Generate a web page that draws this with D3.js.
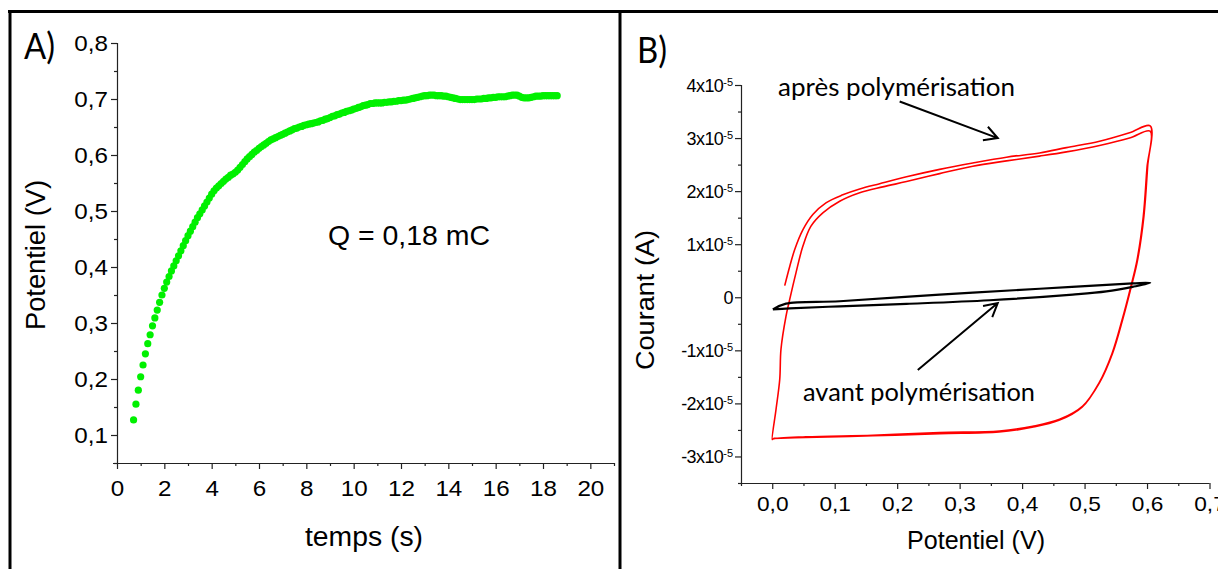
<!DOCTYPE html>
<html>
<head>
<meta charset="utf-8">
<script src="https://cdn.jsdelivr.net/npm/d3@7"></script>
<style>
  html, body { margin: 0; padding: 0; background: #fff; }
  svg { display: block; }
  .axis path, .axis line { stroke: #222; stroke-width: 1.2; }
  .arial { font-family: "Liberation Sans", Arial, sans-serif; fill: #000; }
  .calibri { font-family: Lato, "Open Sans", sans-serif; fill: #000; }
</style>
</head>
<body>
<script>
// ---------------- Panel A data : chronopotentiometry ----------------
const timeS = [
  0.7,0.8,0.9,1.0,1.1,1.2,1.3,1.4,1.5,1.6,
  1.7,1.8,1.9,2.0,2.1,2.2,2.3,2.4,2.5,2.6,
  2.7,2.8,2.9,3.0,3.1,3.2,3.3,3.4,3.5,3.6,
  3.7,3.8,3.9,4.0,4.1,4.2,4.3,4.4,4.5,4.6,
  4.7,4.8,4.9,5.0,5.1,5.2,5.3,5.4,5.5,5.6,
  5.7,5.8,5.9,6.0,6.1,6.2,6.3,6.4,6.5,6.6,
  6.7,6.8,6.9,7.0,7.1,7.2,7.3,7.4,7.5,7.6,
  7.7,7.8,7.9,8.0,8.1,8.2,8.3,8.4,8.5,8.6,
  8.7,8.8,8.9,9.0,9.1,9.2,9.3,9.4,9.5,9.6,
  9.7,9.8,9.9,10.0,10.1,10.2,10.3,10.4,10.5,10.6,
  10.7,10.8,10.9,11.0,11.1,11.2,11.3,11.4,11.5,11.6,
  11.7,11.8,11.9,12.0,12.1,12.2,12.3,12.4,12.5,12.6,
  12.7,12.8,12.9,13.0,13.1,13.2,13.3,13.4,13.5,13.6,
  13.7,13.8,13.9,14.0,14.1,14.2,14.3,14.4,14.5,14.6,
  14.7,14.8,14.9,15.0,15.1,15.2,15.3,15.4,15.5,15.6,
  15.7,15.8,15.9,16.0,16.1,16.2,16.3,16.4,16.5,16.6,
  16.7,16.8,16.9,17.0,17.1,17.2,17.3,17.4,17.5,17.6,
  17.7,17.8,17.9,18.0,18.1,18.2,18.3,18.4,18.5,18.6
];
const potentialV = [
  0.127,0.155,0.180,0.204,0.225,0.245,0.263,0.279,0.295,0.309,
  0.323,0.337,0.350,0.362,0.373,0.383,0.393,0.402,0.411,0.420,
  0.429,0.438,0.447,0.456,0.464,0.472,0.480,0.488,0.495,0.502,
  0.509,0.516,0.523,0.530,0.536,0.541,0.545,0.549,0.553,0.557,
  0.560,0.564,0.566,0.569,0.573,0.578,0.583,0.588,0.593,0.597,
  0.601,0.605,0.608,0.612,0.615,0.618,0.621,0.624,0.627,0.629,
  0.631,0.633,0.635,0.637,0.639,0.641,0.643,0.645,0.647,0.648,
  0.650,0.651,0.653,0.654,0.655,0.656,0.657,0.658,0.659,0.661,
  0.662,0.664,0.665,0.667,0.669,0.670,0.672,0.673,0.675,0.676,
  0.678,0.679,0.680,0.682,0.683,0.685,0.686,0.688,0.689,0.690,
  0.692,0.692,0.693,0.693,0.693,0.693,0.694,0.694,0.695,0.695,
  0.696,0.696,0.697,0.697,0.698,0.698,0.699,0.700,0.701,0.702,
  0.703,0.704,0.705,0.706,0.706,0.707,0.707,0.707,0.706,0.706,
  0.706,0.705,0.705,0.704,0.703,0.702,0.701,0.700,0.699,0.699,
  0.699,0.699,0.699,0.699,0.699,0.700,0.700,0.700,0.701,0.701,
  0.702,0.702,0.703,0.703,0.704,0.704,0.704,0.704,0.705,0.706,
  0.707,0.707,0.707,0.705,0.703,0.702,0.702,0.702,0.703,0.704,
  0.705,0.705,0.705,0.706,0.706,0.706,0.706,0.706,0.706,0.706
];
const aXTicks = [0,2,4,6,8,10,12,14,16,18,20];
const aXTickLabels = ["0","2","4","6","8","10","12","14","16","18","20"];
const aYTicks = [0.1,0.2,0.3,0.4,0.5,0.6,0.7,0.8];
const aYTickLabels = ["0,1","0,2","0,3","0,4","0,5","0,6","0,7","0,8"];
const chargeLabel = "Q = 0,18 mC";

// ---------------- Panel B data : cyclic voltammetry (current in 1e-5 A) ----------------
const redE = [
  0.020,0.028,0.036,0.049,0.065,0.086,0.113,0.140,0.172,0.215,0.268,0.321,0.375,0.428,0.471,0.524,0.572,0.605,
  0.601,0.595,0.585,0.575,0.561,0.545,0.524,0.497,0.460,0.417,0.364,0.268,0.161,0.054,0.001,0.000,
  0.006,0.012,0.014,0.022,0.028,0.038,0.049,0.062,0.081,0.108,0.140,0.177,0.215,0.268,0.321,0.375,0.428,0.471,0.524,0.572,0.605,
  0.600,0.594,0.584,0.574,0.560,0.544,0.523,0.496,0.459,0.416,0.363,0.268,0.161,0.054,0.002
];
const redI = [
  0.22,0.58,0.90,1.27,1.56,1.78,1.93,2.04,2.14,2.27,2.41,2.53,2.64,2.72,2.82,2.94,3.10,3.23,
  2.47,1.53,0.71,0.21,-0.42,-1.05,-1.61,-2.05,-2.30,-2.43,-2.52,-2.55,-2.60,-2.63,-2.67,-2.68,
  -2.12,-1.55,-0.98,-0.36,-0.04,0.46,0.96,1.34,1.59,1.81,1.97,2.08,2.18,2.33,2.47,2.57,2.66,2.74,2.86,3.00,3.13,
  2.45,1.52,0.70,0.20,-0.43,-1.06,-1.62,-2.07,-2.32,-2.45,-2.54,-2.57,-2.61,-2.64,-2.66
];
const blackE = [0.001,0.022,0.108,0.268,0.428,0.577,0.605,0.577,0.535,0.481,0.348,0.215,0.108,0.028,0.001];
const blackI = [-0.23,-0.12,-0.075,0.05,0.16,0.26,0.27,0.196,0.11,0.05,-0.056,-0.124,-0.17,-0.21,-0.23];
const bXTicks = [0,0.1,0.2,0.3,0.4,0.5,0.6,0.7];
const bXTickLabels = ["0,0","0,1","0,2","0,3","0,4","0,5","0,6","0,7"];
const bYTicks = [-3,-2,-1,0,1,2,3,4];
const bYTickMantissa = ["-3x10","-2x10","-1x10","0","1x10","2x10","3x10","4x10"];
const bYTickExponent = ["-5","-5","-5","","-5","-5","-5","-5"];
const labelAfter = "après polymérisation";
const labelBefore = "avant polymérisation";

// ---------------- drawing ----------------
const W = 1218, H = 569;
const svg = d3.select("body").append("svg").attr("width", W).attr("height", H);
svg.append("rect").attr("width", W).attr("height", H).attr("fill", "#fff");

svg.append("line").attr("x1", 8).attr("x2", W).attr("y1", 11.5).attr("y2", 11.5).attr("stroke", "#000").attr("stroke-width", 3);
svg.append("line").attr("x1", 10).attr("x2", 10).attr("y1", 10).attr("y2", H).attr("stroke", "#000").attr("stroke-width", 3);
svg.append("line").attr("x1", 620).attr("x2", 620).attr("y1", 10).attr("y2", H).attr("stroke", "#000").attr("stroke-width", 3);

// widen a text horizontally (reference glyphs are slightly stretched)
function widen(sel, k) {
  sel.each(function() {
    const w = this.getComputedTextLength();
    if (w > 0) d3.select(this).attr("textLength", w * k).attr("lengthAdjust", "spacingAndGlyphs");
  });
}

// ===== Panel A =====
const ax = d3.scaleLinear().domain([0, 21]).range([117, 614]);
const ay = d3.scaleLinear().domain([0.05, 0.8]).range([463, 43]);
const gA = svg.append("g");

gA.append("g").attr("class", "axis").attr("transform", "translate(0,463)")
  .call(d3.axisBottom(ax).tickValues(d3.range(1, 22, 2)).tickSize(3).tickSizeOuter(0).tickFormat(""))
  .call(g => g.select(".domain").remove());
gA.append("g").attr("class", "axis").attr("transform", "translate(117,0)")
  .call(d3.axisLeft(ay).tickValues(d3.range(0.05, 0.8, 0.1)).tickSize(3).tickSizeOuter(0).tickFormat(""))
  .call(g => g.select(".domain").remove());
const axA = gA.append("g").attr("class", "axis").attr("transform", "translate(0,463)")
  .call(d3.axisBottom(ax).tickValues(aXTicks).tickSize(6).tickSizeOuter(0).tickFormat((d, i) => aXTickLabels[i]));
axA.select(".domain").attr("d", `M${ax(0)-4},0.5H${ax(21)}`);
axA.selectAll(".tick text").attr("class", "arial").style("font-size", "22px").attr("y", 17).attr("dy", "0.71em");
widen(axA.selectAll(".tick text"), 1.1);
const ayA = gA.append("g").attr("class", "axis").attr("transform", "translate(117,0)")
  .call(d3.axisLeft(ay).tickValues(aYTicks).tickSize(6).tickSizeOuter(0).tickFormat((d, i) => aYTickLabels[i]));
ayA.select(".domain").attr("d", `M0.5,${ay(0.05)}V${ay(0.8)}`);
ayA.selectAll(".tick text").attr("class", "arial").style("font-size", "22px").attr("x", -9);
widen(ayA.selectAll(".tick text"), 1.1);

gA.append("g").selectAll("circle").data(timeS).join("circle")
  .attr("cx", d => ax(d)).attr("cy", (d, i) => ay(potentialV[i]))
  .attr("r", 3.6).attr("fill", "#00f000");

gA.append("text").attr("class", "arial").attr("x", 328).attr("y", 245)
  .attr("textLength", 162).attr("lengthAdjust", "spacingAndGlyphs")
  .style("font-size", "28px").text(chargeLabel);
gA.append("text").attr("class", "arial").attr("x", 364).attr("y", 546).attr("text-anchor", "middle")
  .attr("textLength", 118).attr("lengthAdjust", "spacingAndGlyphs")
  .style("font-size", "27px").text("temps (s)");
gA.append("text").attr("class", "arial").attr("transform", "translate(45,255) rotate(-90)").attr("text-anchor", "middle")
  .attr("textLength", 150).attr("lengthAdjust", "spacingAndGlyphs")
  .style("font-size", "27px").text("Potentiel (V)");
gA.append("text").attr("class", "calibri").attr("x", 24).attr("y", 59)
  .attr("textLength", 31).attr("lengthAdjust", "spacingAndGlyphs")
  .style("font-size", "36px").text("A)");

// ===== Panel B =====
const bx = d3.scaleLinear().domain([-0.05, 0.7]).range([741, 1209.5]);
const by = d3.scaleLinear().domain([-3.5, 4]).range([483, 85]);
const gB = svg.append("g");

gB.append("g").attr("class", "axis").attr("transform", "translate(0,483)")
  .call(d3.axisBottom(bx).tickValues(d3.range(-0.05, 0.7, 0.1)).tickSize(3).tickSizeOuter(0).tickFormat(""))
  .call(g => g.select(".domain").remove());
gB.append("g").attr("class", "axis").attr("transform", "translate(741,0)")
  .call(d3.axisLeft(by).tickValues(d3.range(-3.5, 4, 1)).tickSize(3).tickSizeOuter(0).tickFormat(""))
  .call(g => g.select(".domain").remove());
const axB = gB.append("g").attr("class", "axis").attr("transform", "translate(0,483)")
  .call(d3.axisBottom(bx).tickValues(bXTicks).tickSize(6).tickSizeOuter(0).tickFormat((d, i) => bXTickLabels[i]));
axB.select(".domain").attr("d", `M${bx(-0.05)},0.5H${bx(0.7)}`);
axB.selectAll(".tick text").attr("class", "arial").style("font-size", "21px").attr("y", 13).attr("dy", "0.71em");
widen(axB.selectAll(".tick text"), 1.08);
const ayB = gB.append("g").attr("class", "axis").attr("transform", "translate(741,0)")
  .call(d3.axisLeft(by).tickValues(bYTicks).tickSize(6).tickSizeOuter(0).tickFormat(""));
ayB.select(".domain").attr("d", `M0.5,${by(-3.5)}V${by(4)}`);
ayB.selectAll(".tick").each(function(d, i) {
  const t = d3.select(this).append("text").attr("class", "arial").attr("x", -8).attr("dy", "0.36em")
    .attr("text-anchor", "end").style("font-size", "18px").style("letter-spacing", "-0.6px");
  t.append("tspan").text(bYTickMantissa[i]);
  if (bYTickExponent[i]) {
    t.append("tspan").attr("dy", "-0.55em").style("font-size", "11px").style("letter-spacing", "0px").text(bYTickExponent[i]);
  }
});

const line = d3.line().x(d => bx(d[0])).y(d => by(d[1])).curve(d3.curveCatmullRom.alpha(0.5));
gB.append("path").datum(redE.map((e, i) => [e, redI[i]]))
  .attr("d", line).attr("fill", "none").attr("stroke", "#ff0000").attr("stroke-width", 1.6);
gB.append("path").datum(blackE.map((e, i) => [e, blackI[i]]))
  .attr("d", line).attr("fill", "none").attr("stroke", "#000").attr("stroke-width", 2.2);

function arrow(e0, i0, e1, i1) {
  const x0 = bx(e0), y0 = by(i0), x1 = bx(e1), y1 = by(i1);
  const a = Math.atan2(y1 - y0, x1 - x0), L = 15, s = 0.5;
  const p = `M${x0},${y0}L${x1},${y1}` +
    `M${x1 - L*Math.cos(a - s)},${y1 - L*Math.sin(a - s)}L${x1},${y1}L${x1 - L*Math.cos(a + s)},${y1 - L*Math.sin(a + s)}`;
  gB.append("path").attr("d", p).attr("fill", "none").attr("stroke", "#000").attr("stroke-width", 2);
}
arrow(0.204, 3.69, 0.361, 3.0);
arrow(0.233, -1.37, 0.361, -0.11);

gB.append("text").attr("class", "calibri").attr("x", 778).attr("y", 96)
  .attr("textLength", 237).attr("lengthAdjust", "spacingAndGlyphs")
  .style("font-size", "25px").text(labelAfter);
gB.append("text").attr("class", "calibri").attr("x", 803).attr("y", 401)
  .attr("textLength", 232).attr("lengthAdjust", "spacingAndGlyphs")
  .style("font-size", "25px").text(labelBefore);

gB.append("text").attr("class", "arial").attr("x", 976).attr("y", 549).attr("text-anchor", "middle")
  .attr("textLength", 138).attr("lengthAdjust", "spacingAndGlyphs")
  .style("font-size", "26px").text("Potentiel (V)");
gB.append("text").attr("class", "arial").attr("transform", "translate(654,300) rotate(-90)").attr("text-anchor", "middle")
  .attr("textLength", 140).attr("lengthAdjust", "spacingAndGlyphs")
  .style("font-size", "26px").text("Courant (A)");
gB.append("text").attr("class", "calibri").attr("x", 637).attr("y", 63)
  .attr("textLength", 30).attr("lengthAdjust", "spacingAndGlyphs")
  .style("font-size", "36px").text("B)");
</script>
</body>
</html>
